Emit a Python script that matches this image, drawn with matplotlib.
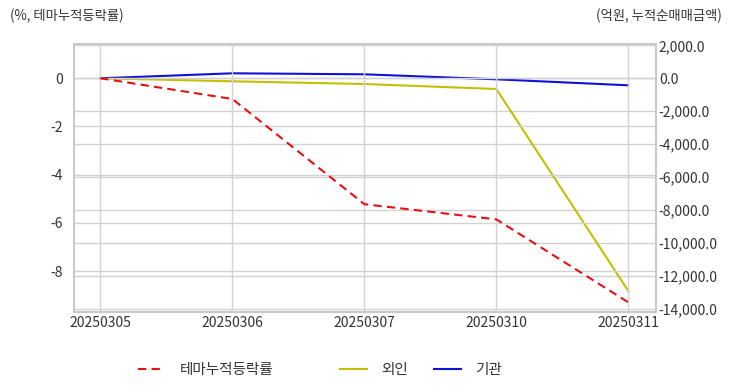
import numpy as np
import matplotlib
matplotlib.use("Agg")
import matplotlib.pyplot as plt
from matplotlib.ticker import FuncFormatter

plt.rcParams['font.family'] = ['Noto Sans CJK KR', 'DejaVu Sans']

# 데이터
dates = ["20250305", "20250306", "20250307", "20250310", "20250311"]
theme_rate = [0.0, -0.86, -5.22, -5.85, -9.29]       # %, 테마누적등락률
foreign = [0.0, -183.0, -347.0, -651.0, -12927.0]    # 억원, 외인
institution = [0.0, 304.0, 243.0, -61.0, -426.0]     # 억원, 기관
series_names = ["테마누적등락률", "외인", "기관"]

x = np.arange(len(dates))
grid_c = "#d2d2d2"
text_c = "#333333"

fig = plt.figure(figsize=(7.32, 3.92), dpi=100)
ax = fig.add_axes([74 / 732, 1 - 312 / 392, 582 / 732, 268 / 392])
ax2 = ax.twinx()

ln1, = ax.plot(x, theme_rate, color="#e81010", lw=1.5, ls=(0, (4, 2.5)), zorder=3)
ln2, = ax2.plot(x, foreign, color="#c4c000", lw=1.5)
ln3, = ax2.plot(x, institution, color="#1010d8", lw=1.5)

ax.set_xlim(-0.2, 4.21)
ax.set_ylim(-9.69, 1.42)
ax2.set_ylim(-14207, 2085)

ax.set_xticks(x)
ax.set_xticklabels(dates)
ax.set_yticks([0, -2, -4, -6, -8])
ax.set_yticklabels(["0", "-2", "-4", "-6", "-8"])
ax2.set_yticks(np.arange(2000, -14001, -2000))
ax2.yaxis.set_major_formatter(FuncFormatter(lambda v, p: f"{v:,.1f}"))

for a in (ax, ax2):
    a.tick_params(length=0, labelsize=10, colors=text_c)
    for s in a.spines.values():
        s.set_color("#c8c8c8")
        s.set_linewidth(1.2)
ax.tick_params(axis="y", pad=8)
ax.tick_params(axis="x", pad=3)
ax2.tick_params(axis="y", pad=2)

ax.grid(True, color=grid_c, lw=1)
ax2.grid(True, axis="y", color=grid_c, lw=1)
ax.set_zorder(ax2.get_zorder() + 1)
ax.patch.set_visible(False)

fig.text(10 / 732, 1 - 16 / 392, "(%, 테마누적등락률)", fontsize=9.6, color=text_c, va="center", ha="left")
fig.text(722 / 732, 1 - 16 / 392, "(억원, 누적순매매금액)", fontsize=9.6, color=text_c, va="center", ha="right")

# 범례: 항목별 위치
for ln, name, lx in zip([ln1, ln2, ln3], series_names, [138, 340, 434]):
    leg = fig.legend([ln], [name], loc="center left",
                     bbox_to_anchor=(lx / 732, 1 - 370 / 392), frameon=False,
                     fontsize=10.5, handlelength=1.85, handletextpad=1.0,
                     borderpad=0, borderaxespad=0, labelcolor=text_c)

fig.savefig("out.png", dpi=100)
